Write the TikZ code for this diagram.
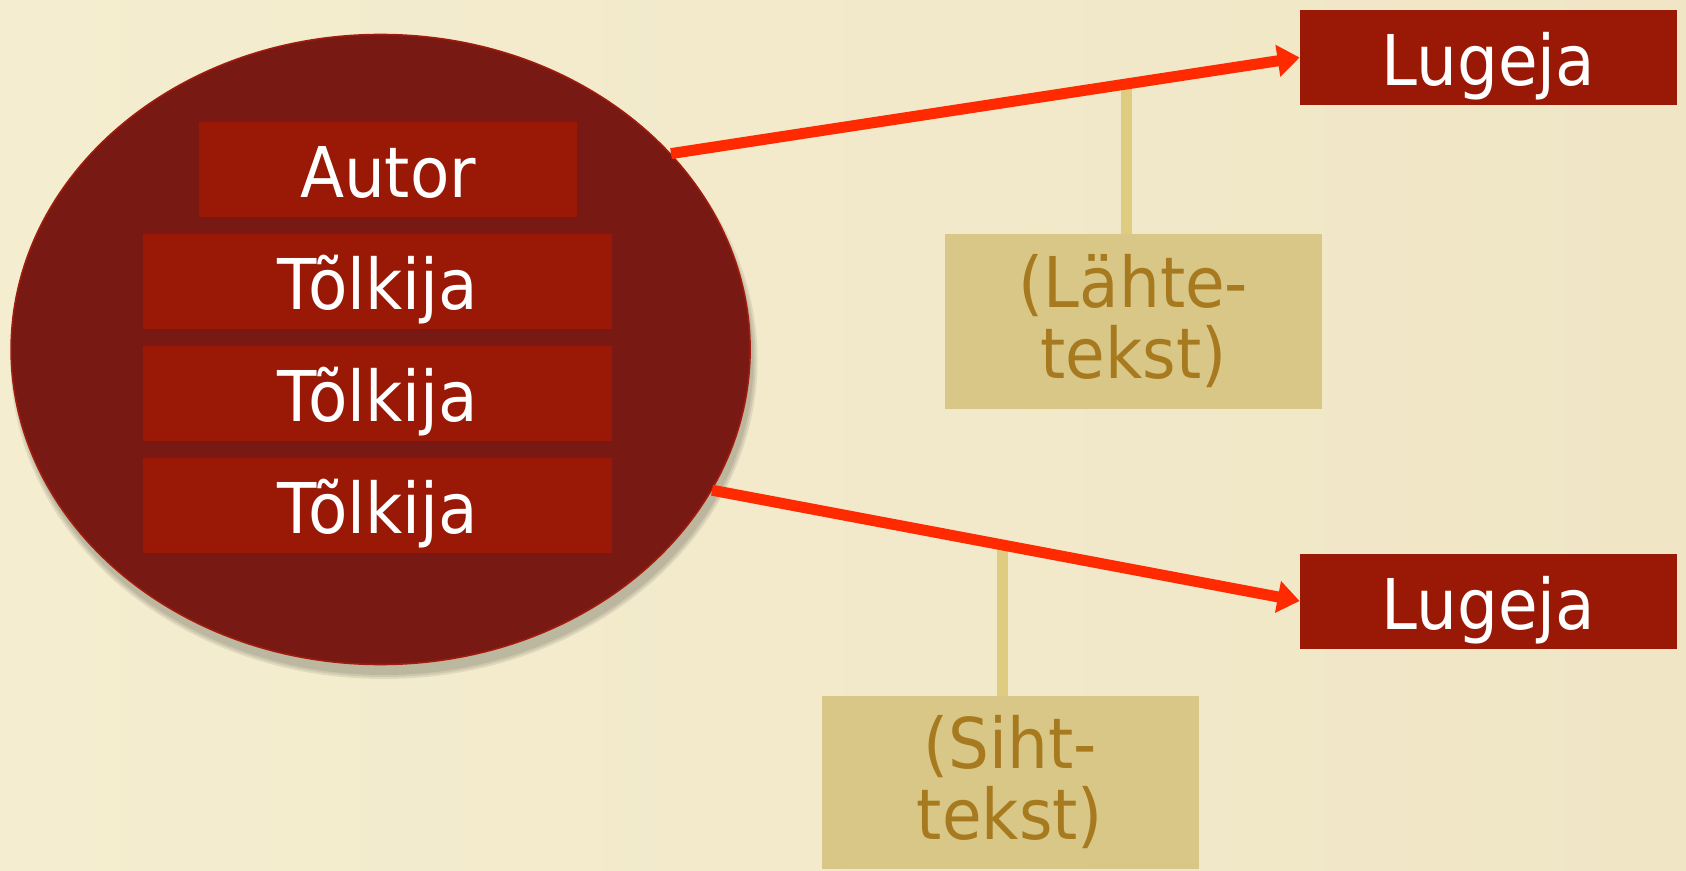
\documentclass[tikz,border=0pt]{standalone}
\usepackage{fontspec}
\setmainfont{DejaVu Sans}[FakeStretch=0.92]
\usetikzlibrary{shapes.geometric,arrows.meta,calc}
\definecolor{bg}{HTML}{F4EDCF}
\definecolor{bgdark}{HTML}{F0E6C6}
\definecolor{ovalred}{HTML}{781913}
\definecolor{ovaledge}{HTML}{A01C0C}
\definecolor{boxred}{HTML}{9A1806}
\definecolor{arrowred}{HTML}{FF2A00}
\definecolor{tanfill}{HTML}{D8C786}
\definecolor{tantext}{HTML}{A77A1F}
\definecolor{tanline}{HTML}{DFCC80}
\begin{document}
\begin{tikzpicture}[x=0.5pt,y=-0.5pt,
 redbox/.style={fill=boxred, text=white, minimum height=47.5pt, inner sep=0pt,
   text height=28pt, text depth=0pt, font=\fontsize{35}{38}\selectfont},
 tanbox/.style={fill=tanfill, text=tantext, minimum width=188.5pt, inner sep=0pt,
   align=center, font=\fontsize{35}{35.5}\selectfont},
 conn/.style={line width=5.5pt, draw=arrowred, -{Triangle[length=11pt,width=15.5pt]}},
 stem/.style={line width=5.5pt, draw=tanline},
 shadowpart/.style={fill=black, opacity=0.08}]
\shade[left color=bg, right color=bgdark] (0,0) rectangle (1686,871);
\useasboundingbox (0,0) rectangle (1686,871);
\foreach \r in {0,2,4}{
  \fill[shadowpart] (384,360) ellipse [x radius={369.5+\r}, y radius={315+\r}];
}
\node[ellipse, fill=ovalred, draw=ovaledge, line width=0.8pt,
  minimum width=369.5pt, minimum height=315pt]
  (grp) at (380.6,349.5) {};
\node[redbox, minimum width=189pt] (autor) at (388,169.5) {Autor};
\node[redbox, minimum width=234.5pt] (t1) at (377.5,281.5) {Tõlkija};
\node[redbox, minimum width=234.5pt] (t2) at (377.5,393.5) {Tõlkija};
\node[redbox, minimum width=234.5pt] (t3) at (377.5,505.5) {Tõlkija};
\node[redbox, minimum width=188.5pt] (lug1) at (1488.5,57.5) {Lugeja};
\node[redbox, minimum width=188.5pt] (lug2) at (1488.5,601) {Lugeja};
\node[tanbox, minimum height=87.5pt] (lahte) at (1133.5,321.5) {\rule{0pt}{4pt}(Lähte-\\tekst)};
\node[tanbox, minimum height=86.5pt] (siht) at (1010,782.5) {\rule{0pt}{4pt}(Siht-\\tekst)};
\path (grp.34) -- coordinate[pos=0.724] (m1) (lug1.west);
\path (grp.-23) -- coordinate[pos=0.5] (m2) (lug2.west);
\draw[stem] ($(lahte.north)+(-7.5,0)$) -- ($(lahte.north |- m1)+(-7.5,0)$);
\draw[stem] ($(siht.north)+(-7.5,0)$) -- ($(siht.north |- m2)+(-7.5,0)$);
\draw[conn] (grp.34) -- (lug1.west);
\draw[conn] (grp.-23) -- (lug2.west);
\end{tikzpicture}
\end{document}
